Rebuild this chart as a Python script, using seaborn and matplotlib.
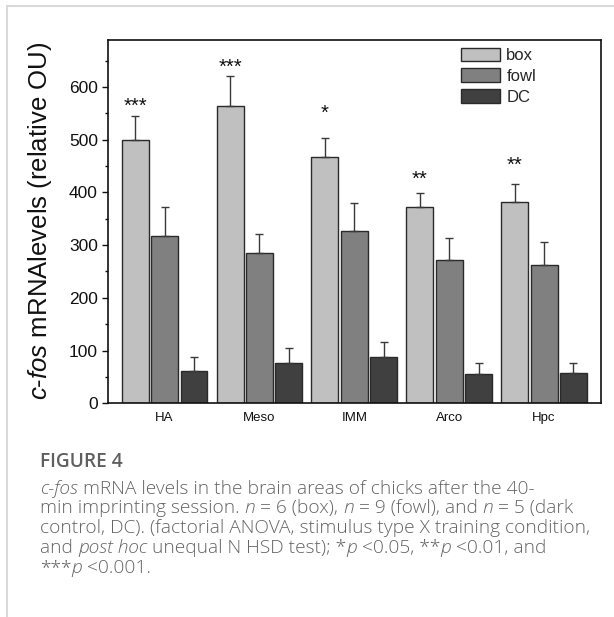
import numpy as np
import pandas as pd
import matplotlib
matplotlib.use("Agg")
import matplotlib.pyplot as plt
import seaborn as sns
from matplotlib import font_manager
from matplotlib.lines import Line2D
from matplotlib.patches import Patch
from matplotlib.ticker import MultipleLocator

# ---------------- data ----------------
regions = ["HA", "Meso", "IMM", "Arco", "Hpc"]
groups = ["box", "fowl", "DC"]
box_mean = [499, 564, 468, 373, 382]
fowl_mean = [318, 285, 327, 271, 263]
dc_mean = [62, 77, 88, 56, 57]
box_sem = [46, 56, 36, 26, 33]
fowl_sem = [55, 37, 52, 43, 42]
dc_sem = [26, 28, 29, 21, 20]
signif = ["***", "***", "*", "**", "**"]
signif_y = [553, 626, 540, 415, 440]
y_ticks = [0, 100, 200, 300, 400, 500, 600]
colors = ["#c0c0c0", "#808080", "#404040"]

# ---------------- style ----------------
sns.set_style("ticks")
plt.rcParams["font.family"] = ["Liberation Sans", "DejaVu Sans"]
plt.rcParams["mathtext.fontset"] = "custom"
plt.rcParams["mathtext.rm"] = "Liberation Sans"
plt.rcParams["mathtext.it"] = "Liberation Sans:italic"

W, H = 614, 617
fig = plt.figure(figsize=(W / 100, H / 100), dpi=100)
fig.patch.set_facecolor("white")
ax = fig.add_axes([107.7 / W, 1 - 403.3 / H, (601 - 107.7) / W, (403.3 - 39.5) / H])

df = pd.DataFrame({
    "region": regions * 3,
    "group": [g for g in groups for _ in regions],
    "value": box_mean + fowl_mean + dc_mean,
})
sns.barplot(data=df, x="region", y="value", hue="group", order=regions,
            hue_order=groups, palette=dict(zip(groups, colors)), width=0.93,
            gap=0.085, errorbar=None, edgecolor="#2a2a2a", linewidth=1.0,
            saturation=1, legend=False, ax=ax)

sems = [box_sem, fowl_sem, dc_sem]
for cont, sem in zip(ax.containers, sems):
    for bar in cont:
        xc = bar.get_x() + bar.get_width() / 2
        i = int(round(xc))
        ax.errorbar(xc, bar.get_height(), yerr=[[0], [sem[i]]], fmt="none",
                    ecolor="#3a3a3a", elinewidth=1.0, capsize=2.8, capthick=1.0,
                    zorder=1)

for bar in ax.containers[0]:
    xc = bar.get_x() + bar.get_width() / 2
    i = int(round(xc))
    ax.text(xc, signif_y[i], signif[i], ha="center", va="baseline",
            fontsize=14.5, color="#111111")

ax.set_xlim(-0.6, 4.6)
ax.set_ylim(0, 690)
ax.set_yticks(y_ticks)
ax.yaxis.set_minor_locator(MultipleLocator(50))
ax.tick_params(axis="y", which="major", direction="out", length=4.5, width=1.0,
               labelsize=12.5, pad=2.5, colors="#111111")
ax.tick_params(axis="y", which="minor", direction="out", length=2.5, width=1.0,
               colors="#111111")
ax.tick_params(axis="x", length=0, labelsize=9.5, pad=6, colors="#111111")
for s in ax.spines.values():
    s.set_visible(True)
    s.set_linewidth(1.2)
    s.set_color("#111111")
ax.set_xlabel("")
ax.set_ylabel(r"$\mathit{c}$-$\mathit{fos}$ mRNAlevels (relative OU)",
              fontsize=18.5, color="#111111", va="center")
ax.yaxis.set_label_coords((40 - 107.7) / (601 - 107.7), 0.5)

handles = [Patch(facecolor=c, edgecolor="#2a2a2a", linewidth=1.0) for c in colors]
ax.legend(handles, groups, loc="upper left",
          bbox_to_anchor=((461.3 - 107.7) / (601 - 107.7), 0.978),
          frameon=False, fontsize=12, handlelength=2.35, handleheight=0.9,
          handletextpad=0.35, labelspacing=0.3, borderpad=0, borderaxespad=0)

# ---------------- page borders ----------------
fig.add_artist(Line2D([7 / W, 1], [1 - 6 / H, 1 - 6 / H], color="#d9d9d9", lw=1.5))
fig.add_artist(Line2D([7 / W, 7 / W], [0, 1 - 6 / H], color="#d9d9d9", lw=1.5))

# ---------------- caption ----------------
ttf = font_manager.fontManager.ttflist
def has(name, style=None, weight=None):
    for f in ttf:
        if f.name == name and (style is None or f.style == style) and \
           (weight is None or f.weight == weight):
            return True
    return False

cap_family = "Open Sans"
it_family = cap_family if has(cap_family, "italic") else (
    "Noto Sans" if has("Noto Sans", "italic") else "DejaVu Sans")
cap_weight = 300 if has(cap_family, weight=300) else "normal"
head_weight = 600 if has(cap_family, weight=600) else "bold"
cap_color = "#646464"

renderer = fig.canvas.get_renderer()

def props(kind, size):
    if kind == "it":
        return dict(family=it_family, style="italic", weight=cap_weight,
                    fontsize=size, color=cap_color)
    return dict(family=cap_family, style="normal", weight=cap_weight,
                fontsize=size, color=cap_color)

def width(s, p):
    t1 = fig.text(0, 0, "|" + s + "|", **p)
    w1 = t1.get_window_extent(renderer).width
    t1.remove()
    t2 = fig.text(0, 0, "||", **p)
    w2 = t2.get_window_extent(renderer).width
    t2.remove()
    return w1 - w2

cap_lines = [
    [("c-fos", "it"), (" mRNA levels in the brain areas of chicks after the 40-", "rm")],
    [("min imprinting session. ", "rm"), ("n", "it"), (" = 6 (box), ", "rm"),
     ("n", "it"), (" = 9 (fowl), and ", "rm"), ("n", "it"), (" = 5 (dark", "rm")],
    [("control, DC). (factorial ANOVA, stimulus type X training condition,", "rm")],
    [("and ", "rm"), ("post hoc", "it"), (" unequal N HSD test); *", "rm"),
     ("p", "it"), (" <0.05, **", "rm"), ("p", "it"), (" <0.01, and", "rm")],
    [("***", "rm"), ("p", "it"), (" <0.001.", "rm")],
]
ref_w = width(cap_lines[2][0][0], props("rm", 10))
cap_size = 10 * 547 / ref_w

fig.text(40 / W, 1 - 466.7 / H, "FIGURE 4", family=cap_family, weight=head_weight,
         fontsize=cap_size * 1.0, color="#5f5f5f", va="baseline", ha="left")

baselines = [493.5, 513.3, 533.1, 552.9, 572.7]
for segs, yb in zip(cap_lines, baselines):
    x = 40.0
    for s, kind in segs:
        p = props(kind, cap_size)
        fig.text(x / W, 1 - yb / H, s, va="baseline", ha="left", **p)
        x += width(s, p)

fig.savefig("out.png", dpi=100, facecolor="white")
